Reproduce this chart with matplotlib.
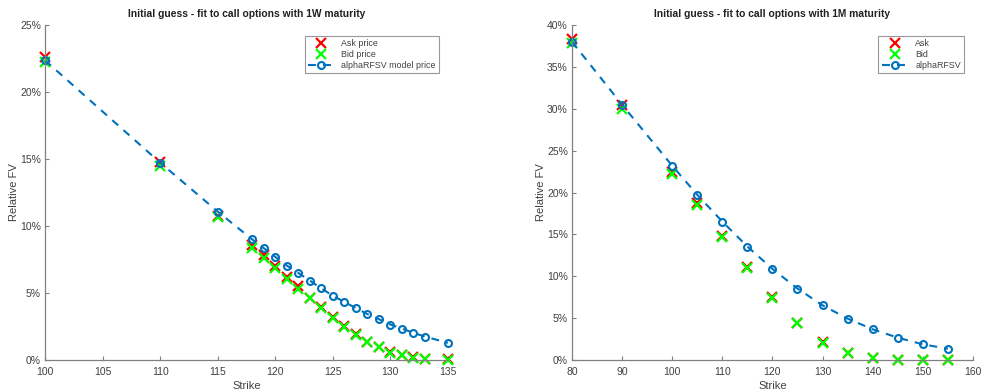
import numpy as np
import matplotlib
matplotlib.use('Agg')
import matplotlib.pyplot as plt
from matplotlib.ticker import FuncFormatter

plt.rcParams['font.family'] = ['Liberation Sans', 'DejaVu Sans']

# 1W maturity (relative FV in %)
strike_1w = [100, 110, 115, 118, 119, 120, 121, 122, 123, 124, 125, 126, 127, 128, 129, 130, 131, 132, 133, 135]
ask_1w = [22.64, 14.80, 10.72, 8.60, 7.80, 7.00, 6.20, 5.50, 4.66, 3.92, 3.20, 2.55, 1.92, 1.38, 0.98, 0.58, 0.37, 0.20, 0.10, 0.04]
bid_1w = [22.24, 14.48, 10.65, 8.35, 7.65, 6.85, 6.05, 5.33, 4.60, 3.85, 3.15, 2.50, 1.88, 1.35, 0.95, 0.55, 0.35, 0.18, 0.08, 0.02]
model_1w = [22.36, 14.73, 11.08, 9.00, 8.35, 7.70, 7.05, 6.50, 5.93, 5.35, 4.80, 4.33, 3.88, 3.43, 3.05, 2.65, 2.35, 2.03, 1.75, 1.28]

# 1M maturity
strike_1m = [80, 90, 100, 105, 110, 115, 120, 125, 130, 135, 140, 145, 150, 155]
ask_1m = [38.28, 30.40, 22.50, 18.80, 14.82, 11.05, 7.50, 4.46, 2.19, 0.85, 0.26, 0.06, 0.02, 0.02]
bid_1m = [37.80, 30.00, 22.20, 18.53, 14.74, 11.00, 7.45, 4.38, 2.07, 0.80, 0.24, 0.04, 0.00, 0.00]
model_1m = [38.00, 30.48, 23.20, 19.72, 16.53, 13.55, 10.88, 8.53, 6.53, 4.94, 3.67, 2.67, 1.87, 1.35]

blue = '#0072BD'
axcol = '#808080'
txtcol = '#404040'


def draw(ax, strike, ask, bid, model, labels, title, xlim, xticks, ylim, yticks):
    ax.plot(strike, ask, 'x', color='red', ms=6.5, mew=1.6, linestyle='none',
            clip_on=False, label=labels[0])
    ax.plot(strike, bid, 'x', color='#00FF00', ms=6.5, mew=1.6, linestyle='none',
            clip_on=False, label=labels[1])
    ax.plot(strike, model, '--o', color=blue, lw=1.5, ms=5, mew=1.5, mfc='none',
            dashes=(3.8, 3.4), clip_on=False, label=labels[2])
    ax.set_xlim(xlim)
    ax.set_ylim(ylim)
    ax.set_xticks(xticks)
    ax.set_yticks(yticks)
    ax.yaxis.set_major_formatter(FuncFormatter(lambda v, p: '%d%%' % v))
    for s in ['top', 'right']:
        ax.spines[s].set_visible(False)
    for s in ['left', 'bottom']:
        ax.spines[s].set_color(axcol)
        ax.spines[s].set_linewidth(0.9)
    ax.tick_params(direction='in', length=3, width=0.8, color=axcol,
                   labelsize=7.5, labelcolor=txtcol)
    ax.tick_params(axis='x', pad=5)
    ax.tick_params(axis='y', pad=3)
    ax.set_title(title, fontsize=7.4, fontweight='bold', color='#202020', pad=6)
    ax.set_xlabel('Strike', fontsize=8, color=txtcol, labelpad=3)
    ax.set_ylabel('Relative FV', fontsize=8, color=txtcol, labelpad=1)
    leg = ax.legend(loc='upper right', fontsize=6.4, frameon=True, fancybox=False,
                    edgecolor=axcol, borderpad=0.35, handlelength=3.0,
                    handletextpad=0.8, labelspacing=0.22, borderaxespad=0,
                    bbox_to_anchor=(0.978, 0.967))
    leg.get_frame().set_linewidth(0.8)
    for t in leg.get_texts():
        t.set_color(txtcol)


fig = plt.figure(figsize=(9.85, 3.92), dpi=100)
ax1 = fig.add_axes([0.0457, 0.0816, 0.409, 0.8546])
ax2 = fig.add_axes([0.5807, 0.0816, 0.407, 0.8546])

draw(ax1, strike_1w, ask_1w, bid_1w, model_1w,
     ['Ask price', 'Bid price', 'alphaRFSV model price'],
     'Initial guess - fit to call options with 1W maturity',
     (100, 135), np.arange(100, 136, 5), (0, 25), np.arange(0, 26, 5))
draw(ax2, strike_1m, ask_1m, bid_1m, model_1m,
     ['Ask', 'Bid', 'alphaRFSV'],
     'Initial guess - fit to call options with 1M maturity',
     (80, 160), np.arange(80, 161, 10), (0, 40), np.arange(0, 41, 5))

fig.savefig('out.png', dpi=100)
